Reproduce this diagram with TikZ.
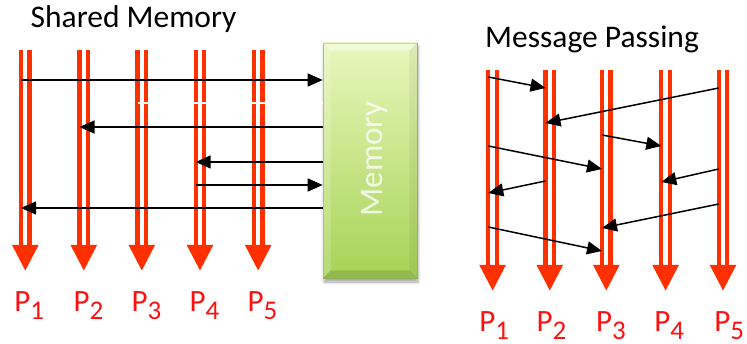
\documentclass[tikz,border=0pt]{standalone}
\usepackage{fontspec}
\setmainfont{Carlito}
\usetikzlibrary{arrows.meta,calc,shadows.blur}

\definecolor{procred}{RGB}{255,48,0}
\definecolor{labred}{RGB}{255,16,16}
\definecolor{memtop}{RGB}{232,247,188}
\definecolor{membot}{RGB}{166,211,86}
\definecolor{memedge}{RGB}{150,185,100}

\tikzset{
  procline/.style={draw=procred, line width=4.3pt, double=white, double distance=4.3pt},
  prochead/.style={fill=procred},
  msg/.style={draw=black, line width=1.5pt, -{Triangle[length=15pt,width=13pt]}},
  plabel/.style={text=labred, font=\fontsize{31}{31}\selectfont, inner sep=0pt, anchor=base west},
  title/.style={font=\fontsize{31.5}{31.5}\selectfont, inner sep=0pt, anchor=base west},
  membox/.style={minimum width=94pt, minimum height=235pt, inner sep=0pt,
    top color=memtop, bottom color=membot, draw=memedge, line width=0.6pt,
    blur shadow={shadow xshift=1pt, shadow yshift=-4pt, shadow blur radius=3pt, shadow opacity=35}},
  memtext/.style={rotate=90, text=white, text opacity=0.8, inner sep=0pt,
    font=\fontsize{33}{33}\selectfont},
}

% subscripted process label
\newcommand{\proc}[1]{P\raisebox{-8pt}{\fontsize{27}{27}\selectfont #1}}

\begin{document}
\begin{tikzpicture}[x=1pt, y=-1pt]
  \useasboundingbox (0,0) rectangle (747,344);

  % ---------------- Shared memory ----------------
  \node[title] (tshared) at (30.5,28) {Shared Memory};

  \node[membox] (mem) at (370,160.5) {};
  % bevel of the memory block
  \fill[white, fill opacity=0.45] (mem.north west) -- (mem.north east)
     -- ([shift={(-8,8)}]mem.north east) -- ([shift={(8,8)}]mem.north west) -- cycle;
  \fill[white, fill opacity=0.18] (mem.north west) -- ([shift={(8,8)}]mem.north west)
     -- ([shift={(8,-8)}]mem.south west) -- (mem.south west) -- cycle;
  \fill[black, fill opacity=0.05] (mem.north east) -- ([shift={(-8,8)}]mem.north east)
     -- ([shift={(-8,-8)}]mem.south east) -- (mem.south east) -- cycle;
  \fill[black, fill opacity=0.12] (mem.south west) -- ([shift={(8,-8)}]mem.south west)
     -- ([shift={(-8,-8)}]mem.south east) -- (mem.south east) -- cycle;
  \node[memtext] (memlabel) at (375,159) {Memory};

  \foreach \i/\x/\lx in {1/25.3/14.2, 2/83.8/73.5, 3/141.8/131.5, 4/200/189.5, 5/258.2/247.5} {
    \coordinate (s\i) at (\x,50);
    \coordinate (sb\i) at (\x-4.3,50);
    \coordinate (s\i tip) at (\x,270.5);
    \draw[procline] (s\i) -- (\x,246);
    \fill[prochead] (\x-13.3,245) -- (\x+13.3,245) -- (s\i tip) -- cycle;
    \node[plabel] (sl\i) at (\lx,312) {\proc{\i}};
  }
  \draw[white, line width=1.2pt] (sb3 |- 0,103) -- (mem.west |- 0,103);

  \draw[msg] (sb1 |- 0,80) -- (mem.west |- 0,80);
  \draw[msg] (mem.west |- 0,127) -- (sb2 |- 0,127);
  \draw[msg] (mem.west |- 0,162) -- (sb4 |- 0,162);
  \draw[msg] (sb4 |- 0,185) -- (mem.west |- 0,185);
  \draw[msg] (mem.west |- 0,208) -- (sb1 |- 0,208);

  % ---------------- Message passing ----------------
  \node[title] (tmsg) at (485,48) {Message Passing};

  \foreach \i/\x/\lx in {1/492.6/479.2, 2/549.8/536.5, 3/606.3/595.8, 4/665.6/654.2, 5/723/714.2} {
    \coordinate (m\i) at (\x,70);
    \coordinate (mb\i) at (\x-4.3,70);
    \coordinate (m\i tip) at (\x,290.5);
    \draw[procline] (m\i) -- (\x,266);
    \fill[prochead] (\x-13.3,265) -- (\x+13.3,265) -- (m\i tip) -- cycle;
    \node[plabel] (ml\i) at (\lx,331.5) {\proc{\i}};
  }

  \draw[msg] (mb1 |- 0,77)  -- (mb2 |- 0,88);
  \draw[msg] (mb5 |- 0,88)  -- (mb2 |- 0,123);
  \draw[msg] (mb3 |- 0,135) -- (mb4 |- 0,146);
  \draw[msg] (mb1 |- 0,146) -- (mb3 |- 0,169);
  \draw[msg] (mb2 |- 0,181) -- (mb1 |- 0,193);
  \draw[msg] (mb5 |- 0,169) -- (mb4 |- 0,182);
  \draw[msg] (mb5 |- 0,204) -- (mb3 |- 0,228);
  \draw[msg] (mb1 |- 0,227) -- (mb3 |- 0,251);
\end{tikzpicture}
\end{document}
